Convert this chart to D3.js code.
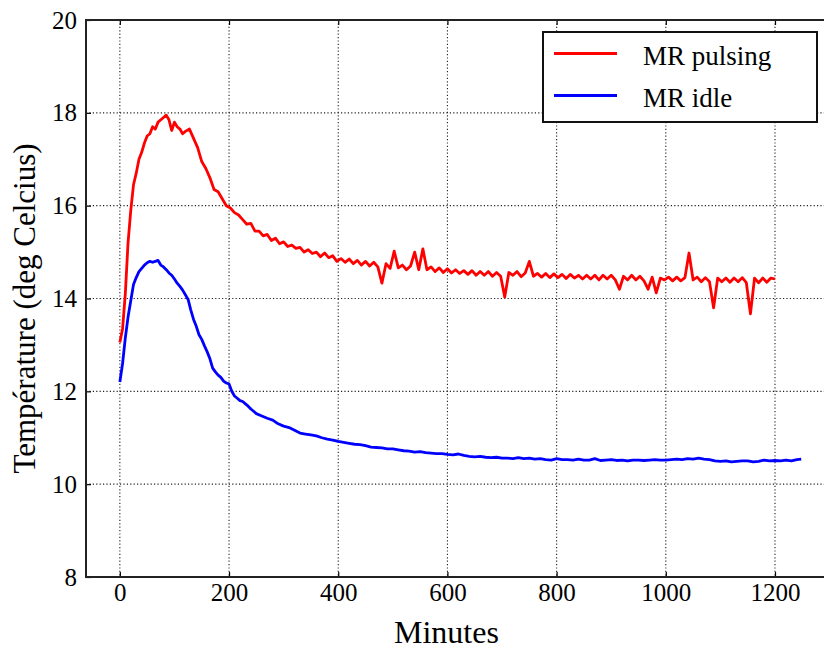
<!DOCTYPE html>
<html><head><meta charset="utf-8">
<script src="https://cdn.jsdelivr.net/npm/d3@7"></script>
</head><body style="margin:0"><svg id="c" width="824" height="650"></svg>
<script>
const xTicks = [0, 200, 400, 600, 800, 1000, 1200];
const yTicks = [8, 10, 12, 14, 16, 18, 20];
const seriesNames = ["MR pulsing", "MR idle"];
const seriesColors = ["#ff0000", "#0000ff"];

const redMinutes = [0,5,10,15,20,25,30,35,40,45,50,55,60,65,70,75,80,85,90,95,100,105,110,115,120,
127.5,135,142.5,150,157.5,165,172.5,180,187.5,195,202.5,210,217.5,225,232.5,240,247.5,255,262.5,270,277.5,285,292.5,300,
307.5,315,322.5,330,337.5,345,352.5,360,367.5,375,382.5,390,397.5,405,412.5,420,427.5,435,442.5,450,457.5,465,472.5,480,
487.5,495,502.5,510,517.5,525,532.5,540,547.5,555,562.5,570,577.5,585,592.5,600,607.5,615,622.5,630,637.5,645,652.5,660,
667.5,675,682.5,690,697.5,705,712.5,720,727.5,735,742.5,750,757.5,765,772.5,780,787.5,795,802.5,810,817.5,825,832.5,840,
847.5,855,862.5,870,877.5,885,892.5,900,907.5,915,922.5,930,937.5,945,952.5,960,967.5,975,982.5,990,997.5,1005,1012.5,1020,
1027.5,1035,1042.5,1050,1057.5,1065,1072.5,1080,1087.5,1095,1102.5,1110,1117.5,1125,1132.5,1140,1147.5,1155,1162.5,1170,
1177.5,1185,1192.5,1200];
const redTemp = [13.05,13.35,14.1,15.2,15.9,16.45,16.7,17.0,17.15,17.35,17.5,17.55,17.7,17.65,17.8,17.85,17.9,17.95,17.85,17.62,17.8,17.7,17.65,17.55,17.6,
17.65,17.45,17.25,16.95,16.8,16.6,16.35,16.3,16.15,16.0,15.95,15.85,15.8,15.7,15.6,15.62,15.45,15.45,15.35,15.38,15.25,15.3,15.18,15.22,
15.12,15.15,15.08,15.1,15.0,15.05,14.97,15.0,14.9,14.98,14.88,14.92,14.8,14.86,14.78,14.85,14.75,14.82,14.72,14.8,14.7,14.78,14.68,14.33,
14.75,14.65,15.02,14.66,14.72,14.62,14.7,15.0,14.62,15.07,14.62,14.68,14.58,14.66,14.56,14.64,14.55,14.62,14.54,14.6,14.52,14.6,14.5,14.58,
14.5,14.58,14.48,14.56,14.48,14.03,14.56,14.5,14.58,14.47,14.55,14.8,14.48,14.54,14.46,14.54,14.45,14.53,14.45,14.52,14.43,14.52,14.44,14.5,
14.42,14.5,14.42,14.5,14.4,14.5,14.42,14.5,14.4,14.2,14.48,14.4,14.5,14.4,14.48,14.38,14.2,14.46,14.12,14.44,14.4,14.46,14.38,14.46,
14.38,14.45,14.98,14.4,14.46,14.36,14.45,14.36,13.8,14.44,14.36,14.44,14.35,14.44,14.36,14.45,14.34,13.67,14.44,14.34,
14.44,14.35,14.44,14.42];

const blueMinutes = [0,5,10,15,20,25,30,35,40,45,50,55,60,65,70,75,80,85,90,95,100,105,110,115,120,125,130,135,140,145,150,
155,160,165,170,175,180,185,190,195,200,205,210,215,220,225,230,235,240,245,250,
260,270,280,290,300,310,320,330,340,350,360,370,380,390,400,410,420,430,440,450,460,470,480,490,500,
510,520,530,540,550,560,570,580,590,600,610,620,630,640,650,660,670,680,690,700,710,720,730,740,750,
760,770,780,790,800,810,820,830,840,850,860,870,880,890,900,910,920,930,940,950,960,970,980,990,1000,
1010,1020,1030,1040,1050,1060,1070,1080,1090,1100,1110,1120,1130,1140,1150,1160,1170,1180,1190,1200,
1210,1220,1230,1240,1248];
const blueTemp = [12.2,12.6,13.15,13.6,13.95,14.3,14.45,14.58,14.65,14.72,14.77,14.8,14.78,14.8,14.82,14.72,14.68,14.62,14.55,14.5,14.42,14.33,14.26,14.18,14.08,13.98,13.75,13.55,13.4,13.22,13.12,
12.98,12.85,12.7,12.5,12.42,12.35,12.3,12.22,12.18,12.16,12.0,11.9,11.85,11.8,11.78,11.73,11.68,11.62,11.57,11.52,
11.47,11.42,11.38,11.3,11.25,11.22,11.16,11.1,11.08,11.06,11.04,11.0,10.97,10.95,10.92,10.9,10.88,10.86,10.85,10.83,10.8,10.79,10.78,10.76,10.76,
10.74,10.72,10.71,10.69,10.7,10.68,10.67,10.66,10.66,10.64,10.63,10.65,10.62,10.6,10.59,10.6,10.58,10.57,10.58,10.56,10.56,10.55,10.57,10.55,10.56,
10.54,10.55,10.53,10.52,10.55,10.53,10.53,10.52,10.54,10.52,10.52,10.55,10.51,10.52,10.53,10.51,10.52,10.5,10.52,10.52,10.51,10.52,10.53,10.52,10.52,
10.53,10.54,10.53,10.55,10.54,10.56,10.54,10.53,10.5,10.49,10.5,10.48,10.49,10.5,10.5,10.48,10.49,10.52,10.5,10.51,
10.5,10.52,10.5,10.53,10.54];

const family = ["Liberation", "Serif"].join(" ");
const svg = d3.select("#c");
const x = d3.scaleLinear().domain([-62, 1300]).range([86, 829.6]);
const y = d3.scaleLinear().domain([8, 20]).range([577, 20]);
const [x0, x1] = x.range();
const [yb, yt] = y.range();

function serif(sel, size) {
  sel.attr("font-family", `"${family}"`).attr("font-size", size)
     .style("font-family", `"${family}"`, "important").style("font-size", size + "px").attr("fill", "#000");
  return sel;
}

// grid
const grid = svg.append("g").attr("stroke", "#222").attr("stroke-width", 1.1).attr("stroke-dasharray", "1.2,2.2");
grid.selectAll(".gx").data(xTicks).join("line").attr("x1", d => x(d)).attr("x2", d => x(d)).attr("y1", yt).attr("y2", yb);
grid.selectAll(".gy").data(yTicks).join("line").attr("y1", d => y(d)).attr("y2", d => y(d)).attr("x1", x0).attr("x2", x1);

// axes (ticks inward)
const fs = 25;
const xa = svg.append("g").attr("transform", `translate(0,${yb})`).call(d3.axisBottom(x).tickValues(xTicks).tickFormat(d3.format("d")).tickSizeInner(-5).tickSizeOuter(0).tickPadding(10));
const xt = svg.append("g").attr("transform", `translate(0,${yt})`).call(d3.axisTop(x).tickValues(xTicks).tickSizeInner(-5).tickSizeOuter(0).tickFormat(""));
const ya = svg.append("g").attr("transform", `translate(${x0},0)`).call(d3.axisLeft(y).tickValues(yTicks).tickFormat(d3.format("d")).tickSizeInner(-5).tickSizeOuter(0).tickPadding(9));
[xa, xt, ya].forEach(g => {
  g.attr("font-family", null).attr("font-size", null);
  g.select(".domain").remove();
  g.selectAll("line").attr("stroke", "#000").attr("stroke-width", 1.2);
  serif(g.selectAll("text"), fs);
});
xa.selectAll("text").attr("dy", "0.55em");

// frame
svg.append("rect").attr("x", x0).attr("y", yt).attr("width", x1 - x0).attr("height", yb - yt)
  .attr("fill", "none").attr("stroke", "#222").attr("stroke-width", 2);

// lines
const line = d3.line().x(d => x(d[0])).y(d => y(d[1]));
const redData = redMinutes.map((m, i) => [m, redTemp[i]]);
const blueData = blueMinutes.map((m, i) => [m, blueTemp[i]]);
svg.append("path").datum(redData).attr("d", line).attr("fill", "none").attr("stroke", seriesColors[0]).attr("stroke-width", 2.8).attr("stroke-linejoin", "round");
svg.append("path").datum(blueData).attr("d", line).attr("fill", "none").attr("stroke", seriesColors[1]).attr("stroke-width", 2.8).attr("stroke-linejoin", "round");

// legend
const lg = svg.append("g");
lg.append("rect").attr("x", 543).attr("y", 32).attr("width", 274).attr("height", 90).attr("fill", "#fff").attr("stroke", "#111").attr("stroke-width", 2);
seriesNames.forEach((n, i) => {
  const yy = 53.5 + i * 42;
  lg.append("line").attr("x1", 554).attr("x2", 617).attr("y1", yy).attr("y2", yy).attr("stroke", seriesColors[i]).attr("stroke-width", 3);
  serif(lg.append("text").attr("x", 643).attr("y", yy + 11), 27).text(n);
});

// axis titles
serif(svg.append("text").attr("x", (x(0) + x(1200)) / 2 - 1).attr("y", 643).attr("text-anchor", "middle"), 32).text("Minutes");
serif(svg.append("text").attr("transform", `translate(35,${(yt + yb) / 2 + 10}) rotate(-90)`).attr("text-anchor", "middle"), 31).text("Température (deg Celcius)");
</script></body></html>
